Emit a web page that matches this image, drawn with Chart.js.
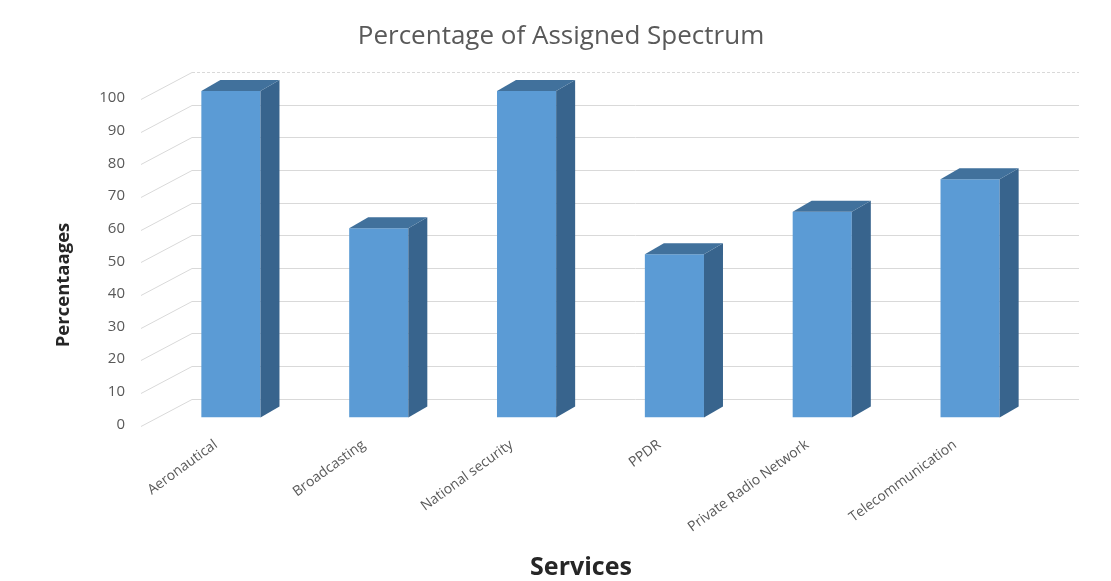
<!DOCTYPE html>
<html>
<head>
<meta charset="utf-8">
<script src="https://cdn.jsdelivr.net/npm/chart.js@4.4.1/dist/chart.umd.min.js"></script>
<style>
  html, body { margin: 0; padding: 0; background: #ffffff; }
  #wrap { width: 1111px; height: 581px; position: relative; }
</style>
</head>
<body>
<div id="wrap"><canvas id="c" width="1111" height="581"></canvas></div>
<script>
const categories = ["Aeronautical", "Broadcasting", "National security", "PPDR", "Private Radio Network", "Telecommunication"];
const percentages = [100, 58, 100, 50, 63, 73];
const yTicks = [0, 10, 20, 30, 40, 50, 60, 70, 80, 90, 100];
const chartTitle = "Percentage of Assigned Spectrum";
const yTitle = "Percentaages";
const xTitle = "Services";

const FRONT = "#5B9BD5";
const SIDE = "#38648D";
const TOP = "#41719C";
const DEPTH_X = 19, DEPTH_Y = -11;
const WALL_X = 35, WALL_Y = -19;

const threeD = {
  id: "threeD",
  beforeDatasetsDraw(chart) {
    const {ctx, chartArea, scales} = chart;
    const y = scales.y;
    ctx.save();
    ctx.lineWidth = 1;
    yTicks.forEach(v => {
      const py = Math.round(y.getPixelForValue(v)) + 0.5;
      ctx.strokeStyle = "#D9D9D9";
      ctx.setLineDash(v === 100 ? [3, 2] : []);
      ctx.beginPath();
      ctx.moveTo(chartArea.left + WALL_X, py + WALL_Y);
      ctx.lineTo(chartArea.right + WALL_X, py + WALL_Y);
      ctx.stroke();
      ctx.setLineDash([]);
      ctx.beginPath();
      ctx.moveTo(chartArea.left - 16, py + 8);
      ctx.lineTo(chartArea.left + WALL_X, py + WALL_Y);
      ctx.stroke();
    });
    ctx.restore();
  },
  afterDatasetsDraw(chart) {
    const {ctx} = chart;
    const meta = chart.getDatasetMeta(0);
    ctx.save();
    meta.data.forEach(bar => {
      const p = bar.getProps(["x", "y", "base", "width"], true);
      const l = p.x - p.width / 2, r = p.x + p.width / 2, t = p.y, b = p.base;
      ctx.fillStyle = SIDE;
      ctx.beginPath();
      ctx.moveTo(r, t);
      ctx.lineTo(r + DEPTH_X, t + DEPTH_Y);
      ctx.lineTo(r + DEPTH_X, b + DEPTH_Y);
      ctx.lineTo(r, b);
      ctx.closePath();
      ctx.fill();
      ctx.fillStyle = TOP;
      ctx.beginPath();
      ctx.moveTo(l, t);
      ctx.lineTo(l + DEPTH_X, t + DEPTH_Y);
      ctx.lineTo(r + DEPTH_X, t + DEPTH_Y);
      ctx.lineTo(r, t);
      ctx.closePath();
      ctx.fill();
    });
    ctx.restore();

    // titles
    ctx.save();
    ctx.textAlign = "center";
    ctx.textBaseline = "middle";
    ctx.fillStyle = "#595959";
    ctx.font = "26px 'Open Sans'";
    ctx.fillText(chartTitle, 561, 37);
    ctx.fillStyle = "#262626";
    ctx.font = "bold 25px 'Open Sans'";
    ctx.fillText(xTitle, 581, 568);
    ctx.translate(64, 285);
    ctx.rotate(-Math.PI / 2);
    ctx.font = "bold 18.5px 'Open Sans'";
    ctx.fillText(yTitle, 0, 0);
    ctx.restore();
  }
};

new Chart(document.getElementById("c"), {
  type: "bar",
  data: {
    labels: categories,
    datasets: [{
      data: percentages,
      backgroundColor: FRONT,
      borderWidth: 0,
      barPercentage: 0.4,
      categoryPercentage: 1.0
    }]
  },
  options: {
    responsive: false,
    animation: false,
    layout: { padding: { left: 0, right: 67, top: 91, bottom: 0 } },
    plugins: {
      legend: { display: false },
      tooltip: { enabled: false },
      title: { display: false }
    },
    scales: {
      x: {
        grid: { display: false, drawTicks: false },
        border: { display: false },
        afterFit(scale) { scale.height = 163.5; },
        ticks: {
          color: "#595959",
          font: { family: "'Open Sans'", size: 14 },
          minRotation: 36,
          maxRotation: 36,
          autoSkip: false,
          padding: 19,
          labelOffset: -15
        }
      },
      y: {
        min: 0,
        max: 100,
        grid: { display: false, drawTicks: false },
        border: { display: false },
        afterFit(scale) { scale.width = 157; },
        afterBuildTicks(scale) { scale.ticks = yTicks.map(v => ({ value: v })); },
        ticks: {
          color: "#595959",
          font: { family: "'Open Sans'", size: 15 },
          padding: 32,
          labelOffset: 7
        }
      }
    }
  },
  plugins: [threeD]
});
</script>
</body>
</html>
